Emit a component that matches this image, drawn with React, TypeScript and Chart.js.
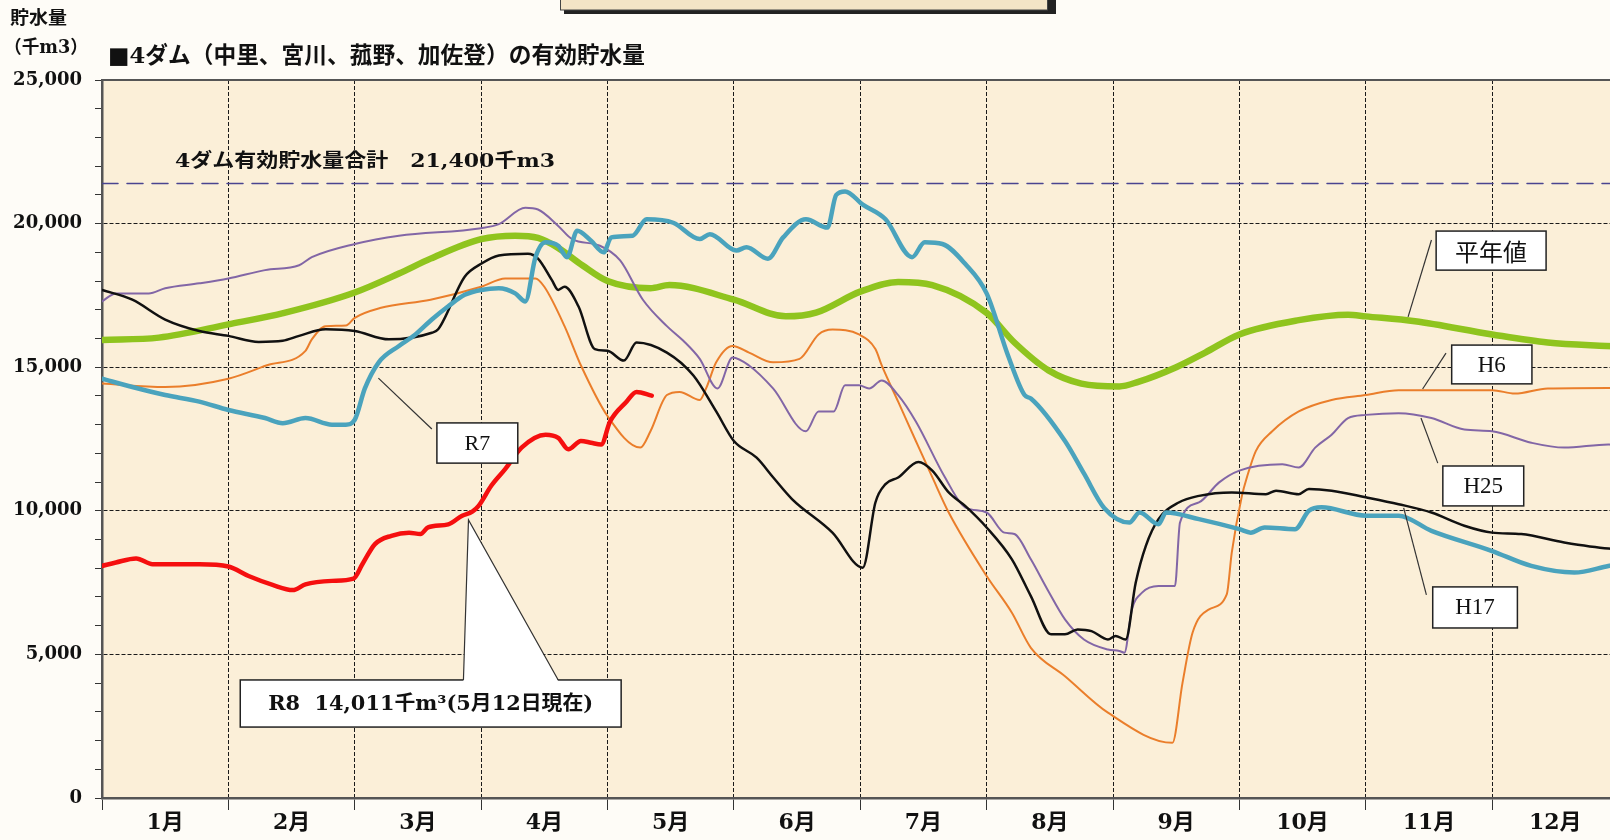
import React, { useEffect, useRef } from "react";
import { Chart, registerables } from "chart.js";

Chart.register(...registerables);

// ---------- data (x = month position 0..12, y = 千m3) ----------
const monthLabels = ["1月", "2月", "3月", "4月", "5月", "6月", "7月", "8月", "9月", "10月", "11月", "12月"];
const yTickValues = Array.from({ length: 26 }, (_, i) => i * 1000);
const xTickValues = [0, 0.5, 1, 1.5, 2, 2.5, 3, 3.5, 4, 4.5, 5, 5.5, 6, 6.5, 7, 7.5, 8, 8.5, 9, 9.5, 10, 10.5, 11, 11.5, 12];

const capacityTotal = 21400;
const capacityLine: [number, number][] = [[0, capacityTotal], [12, capacityTotal]];

const heinen: [number, number][] = [
  [0, 15950], [0.45, 16030], [1, 16490], [1.45, 16900], [2, 17600], [2.35, 18260], [2.6, 18780], [3, 19460],
  [3.27, 19580], [3.45, 19500], [3.6, 19180], [3.8, 18550], [4.0, 18000], [4.34, 17750], [4.49, 17860], [5, 17350],
  [5.41, 16770], [5.65, 16900], [6, 17630], [6.3, 17970], [6.57, 17860], [7, 16890], [7.22, 15860], [7.49, 14890],
  [7.75, 14430], [8.05, 14330], [8.2, 14490], [8.5, 15000], [8.73, 15510], [9, 16140], [9.47, 16640], [9.86, 16830],
  [10, 16770], [10.39, 16600], [11, 16140], [11.44, 15860], [11.9, 15740], [12, 15720],
];

const h6: [number, number][] = [
  [0, 14430], [0.5, 14310], [1, 14600], [1.3, 15060], [1.61, 15570], [1.66, 15970], [1.77, 16430], [1.93, 16450],
  [2, 16720], [2.2, 17060], [2.6, 17350], [3, 17800], [3.19, 18090], [3.43, 18090], [3.5, 17800], [3.66, 16430],
  [3.79, 15060], [4.0, 13300], [4.26, 12200], [4.34, 12770], [4.47, 14030], [4.57, 14140], [4.73, 13860], [4.78, 14260],
  [4.86, 15170], [4.99, 15740], [5.12, 15510], [5.31, 15170], [5.52, 15290], [5.67, 16140], [5.78, 16310], [5.99, 16140],
  [6.12, 15630], [6.17, 15060], [6.3, 13800], [6.44, 12430], [6.57, 11170], [6.7, 9940], [7, 7730], [7.2, 6450],
  [7.35, 5230], [7.62, 4240], [7.96, 2970], [8.47, 1920], [8.55, 4010], [8.63, 5760], [8.76, 6570], [8.9, 7090],
  [8.94, 8550], [9.02, 10520], [9.06, 11170], [9.13, 12080], [9.26, 12770], [9.47, 13460], [9.73, 13860], [10, 14030],
  [10.26, 14200], [10.52, 14200], [11, 14200], [11.18, 14080], [11.44, 14260], [11.92, 14280], [12, 14280],
];

const h25: [number, number][] = [
  [0, 17290], [0.11, 17570], [0.37, 17570], [0.5, 17750], [0.77, 17920], [1, 18090], [1.29, 18380], [1.56, 18550],
  [1.66, 18830], [2, 19290], [2.35, 19580], [3, 19840], [3.14, 19980], [3.35, 20550], [3.45, 20490], [3.61, 19920],
  [3.72, 19460], [3.94, 19230], [4.1, 18720], [4.28, 17350], [4.47, 16430], [4.6, 15920], [4.73, 15290], [4.87, 14260],
  [4.99, 15340], [5.12, 15060], [5.31, 14260], [5.57, 12770], [5.67, 13460], [5.79, 13460], [5.88, 14370], [5.99, 14370],
  [6.07, 14260], [6.17, 14540], [6.3, 14030], [6.44, 13110], [6.67, 11170], [6.83, 10120], [7, 9940], [7.14, 9240],
  [7.22, 9190], [7.35, 8310], [7.48, 7270], [7.62, 6220], [7.77, 5520], [7.96, 5170], [8.05, 5120], [8.09, 5060],
  [8.15, 6570], [8.23, 7150], [8.36, 7380], [8.49, 7380], [8.53, 9590], [8.68, 10290], [8.84, 10990], [9, 11400],
  [9.34, 11620], [9.47, 11510], [9.6, 12200], [9.73, 12650], [9.86, 13230], [10, 13340], [10.26, 13400], [10.52, 13230],
  [10.78, 12830], [11, 12770], [11.31, 12370], [11.57, 12200], [11.92, 12310], [12, 12300],
];

const h17: [number, number][] = [
  [0, 17690], [0.24, 17350], [0.5, 16660], [0.77, 16260], [1, 16090], [1.24, 15880], [1.43, 15920], [1.56, 16090],
  [1.77, 16320], [2, 16260], [2.27, 15970], [2.61, 16200], [2.66, 16320], [2.87, 18150], [3, 18600], [3.14, 18890],
  [3.37, 18950], [3.45, 18780], [3.56, 18030], [3.61, 17690], [3.66, 17800], [3.77, 17120], [3.9, 15630], [4.0, 15570],
  [4.13, 15230], [4.23, 15860], [4.47, 15510], [4.68, 14710], [4.86, 13460], [5, 12430], [5.18, 11850], [5.31, 11170],
  [5.46, 10410], [5.78, 9240], [6.02, 8020], [6.12, 10290], [6.2, 10930], [6.3, 11160], [6.46, 11700], [6.57, 11400],
  [6.7, 10640], [6.83, 10170], [7, 9420], [7.2, 8310], [7.35, 7030], [7.51, 5700], [7.62, 5700], [7.72, 5870],
  [7.83, 5810], [7.96, 5520], [8.02, 5640], [8.1, 5520], [8.18, 7500], [8.26, 8780], [8.36, 9710], [8.52, 10290],
  [8.68, 10520], [8.94, 10640], [9.21, 10580], [9.29, 10700], [9.47, 10580], [9.55, 10760], [9.73, 10700], [10, 10470],
  [10.26, 10230], [10.52, 9940], [10.78, 9480], [11, 9240], [11.23, 9190], [11.57, 8900], [11.92, 8690], [12, 8680],
];

const r7: [number, number][] = [
  [0, 14600], [0.24, 14310], [0.5, 14030], [0.77, 13800], [1, 13510], [1.29, 13230], [1.43, 13050], [1.61, 13230],
  [1.82, 13000], [1.93, 13000], [2, 13170], [2.08, 14260], [2.19, 15170], [2.35, 15740], [2.48, 16140], [2.61, 16660],
  [2.74, 17120], [2.87, 17520], [3, 17690], [3.14, 17750], [3.27, 17570], [3.35, 17290], [3.43, 18830], [3.51, 19350],
  [3.61, 19230], [3.68, 18830], [3.76, 19750], [3.87, 19400], [3.97, 19000], [4.03, 19520], [4.2, 19580], [4.31, 20150],
  [4.52, 20030], [4.73, 19460], [4.81, 19630], [5.02, 19060], [5.1, 19180], [5.27, 18780], [5.39, 19520], [5.57, 20150],
  [5.74, 19860], [5.81, 21000], [5.88, 21120], [6.02, 20660], [6.2, 20150], [6.41, 18830], [6.51, 19350], [6.65, 19290],
  [6.83, 18600], [7, 17570], [7.17, 15400], [7.3, 14030], [7.35, 13910], [7.62, 12430], [7.77, 11300], [7.93, 10100],
  [8.13, 9590], [8.21, 9940], [8.36, 9530], [8.42, 9940], [8.68, 9710], [9, 9360], [9.09, 9240], [9.2, 9420],
  [9.44, 9360], [9.55, 10000], [9.65, 10120], [10, 9830], [10.26, 9830], [10.52, 9300], [11, 8600], [11.31, 8080],
  [11.65, 7850], [11.92, 8080], [12, 8150],
];

const r8: [number, number][] = [
  [0, 8080], [0.11, 8200], [0.27, 8340], [0.4, 8140], [0.64, 8140], [0.77, 8140], [1, 8060], [1.16, 7730],
  [1.35, 7420], [1.51, 7240], [1.61, 7440], [1.82, 7560], [1.99, 7640], [2.06, 8140], [2.16, 8840], [2.29, 9130],
  [2.43, 9240], [2.52, 9190], [2.58, 9420], [2.74, 9530], [2.85, 9830], [2.93, 9970], [2.98, 10170], [3.08, 10870],
  [3.19, 11450], [3.32, 12200], [3.51, 12650], [3.61, 12540], [3.69, 12140], [3.79, 12430], [3.87, 12370], [3.95, 12310],
  [4.02, 13110], [4.15, 13800], [4.23, 14140], [4.35, 14011],
];

// ---------- text ----------
const yAxisTitle1 = "貯水量";
const yAxisTitle2 = "（千m3）";
const chartTitle = "■4ダム（中里、宮川、菰野、加佐登）の有効貯水量";
const capacityText = "4ダム有効貯水量合計　21,400千m3";
const r8Text = "R8  14,011千m³(5月12日現在)";

// ---------- layout / style ----------
const CANVAS_W = 1640;
const CANVAS_H = 840;
const PLOT_LEFT = 102;
const PLOT_RIGHT = 1618.5;
const PLOT_TOP = 80;
const PLOT_BOTTOM = 798;

const SERIF = '"DejaVu Serif", "Noto Sans CJK JP", serif';
const LIB = '"Liberation Serif", "Noto Sans CJK JP", serif';
const CJK = '"Noto Sans CJK JP", sans-serif';

// callout boxes in data coordinates: box = [x0, yTop, x1, yBottom], line = [[x,y] at box, [x,y] at series]
const callouts = [
  { text: "平年値", font: `24px ${CJK}`, box: [10.557, 19740, 11.427, 18380], line: [[10.52, 19430], [10.335, 16750]] },
  { text: "H6", font: `23px ${LIB}`, box: [10.68, 15770, 11.315, 14420], line: [[10.635, 15490], [10.45, 14240]] },
  { text: "H25", font: `23px ${LIB}`, box: [10.61, 11560, 11.25, 10170], line: [[10.57, 11660], [10.437, 13230]] },
  { text: "H17", font: `23px ${LIB}`, box: [10.53, 7350, 11.2, 5920], line: [[10.48, 7070], [10.3, 10100]] },
  { text: "R7", font: `22px ${LIB}`, box: [2.65, 13060, 3.29, 11660], line: [[2.61, 12850], [2.187, 14620]] },
];
const r8Callout = { box: [1.094, 4110, 4.108, 2470], wedge: [2.86, 3.61], tip: [2.9, 9680] };

function drawText(
  ctx: CanvasRenderingContext2D, text: string, x: number, y: number, font: string,
  width: number | null, align: "left" | "center"
) {
  ctx.save();
  ctx.font = font;
  ctx.textBaseline = "middle";
  ctx.textAlign = "left";
  const w = ctx.measureText(text).width;
  const k = width ? width / w : 1;
  const left = align === "left" ? x : x - (w * k) / 2;
  ctx.translate(left, y);
  ctx.scale(k, 1);
  ctx.fillStyle = "#111";
  ctx.fillText(text, 0, 0);
  ctx.restore();
}

const overlayPlugin = {
  id: "overlay",
  beforeDraw(chart: any) {
    const { ctx, chartArea: a } = chart;
    ctx.save();
    ctx.fillStyle = "#FEFCF7";
    ctx.fillRect(0, 0, chart.width, chart.height);
    ctx.fillStyle = "#FBEFD8";
    ctx.fillRect(a.left, a.top, a.right - a.left, a.bottom - a.top);
    ctx.restore();
  },
  afterDatasetsDraw(chart: any) {
    const { ctx, chartArea: a, scales } = chart;
    const X = (v: number) => scales.x.getPixelForValue(v);
    const Y = (v: number) => scales.y.getPixelForValue(v);
    ctx.save();
    // top frame line
    ctx.strokeStyle = "#555";
    ctx.lineWidth = 2;
    ctx.beginPath();
    ctx.moveTo(a.left, a.top);
    ctx.lineTo(a.right, a.top);
    ctx.stroke();

    // callouts
    for (const c of callouts) {
      ctx.strokeStyle = "#333";
      ctx.lineWidth = 1.2;
      ctx.beginPath();
      ctx.moveTo(X(c.line[0][0]), Y(c.line[0][1]));
      ctx.lineTo(X(c.line[1][0]), Y(c.line[1][1]));
      ctx.stroke();
      const x0 = X(c.box[0]), y0 = Y(c.box[1]), x1 = X(c.box[2]), y1 = Y(c.box[3]);
      ctx.fillStyle = "#FFFFFF";
      ctx.fillRect(x0, y0, x1 - x0, y1 - y0);
      ctx.strokeStyle = "#222";
      ctx.lineWidth = 1.5;
      ctx.strokeRect(x0, y0, x1 - x0, y1 - y0);
      drawText(ctx, c.text, (x0 + x1) / 2, (y0 + y1) / 2 + 1, c.font, null, "center");
    }

    // R8 wedge callout
    {
      const b = r8Callout.box;
      const x0 = X(b[0]), y0 = Y(b[1]), x1 = X(b[2]), y1 = Y(b[3]);
      const wa = X(r8Callout.wedge[0]), wb = X(r8Callout.wedge[1]);
      const tx = X(r8Callout.tip[0]), ty = Y(r8Callout.tip[1]);
      ctx.fillStyle = "#FFFFFF";
      ctx.fillRect(x0, y0, x1 - x0, y1 - y0);
      ctx.strokeStyle = "#222";
      ctx.lineWidth = 1.5;
      ctx.strokeRect(x0, y0, x1 - x0, y1 - y0);
      ctx.beginPath();
      ctx.moveTo(wa, y0 + 1);
      ctx.lineTo(tx, ty);
      ctx.lineTo(wb, y0 + 1);
      ctx.closePath();
      ctx.fill();
      ctx.lineWidth = 1.2;
      ctx.strokeStyle = "#333";
      ctx.beginPath();
      ctx.moveTo(wa, y0);
      ctx.lineTo(tx, ty);
      ctx.lineTo(wb, y0);
      ctx.stroke();
      drawText(ctx, r8Text, (x0 + x1) / 2, (y0 + y1) / 2 + 1, `bold 20px ${SERIF}`, 325, "center");
    }
    ctx.restore();
  },
  afterDraw(chart: any) {
    const { ctx, scales } = chart;
    const Y = (v: number) => scales.y.getPixelForValue(v);
    ctx.save();
    // partially visible box at the very top
    ctx.fillStyle = "#222";
    ctx.fillRect(564, -10, 492, 24);
    ctx.fillStyle = "#F4E4C6";
    ctx.fillRect(560, -10, 488, 20);
    ctx.strokeStyle = "#444";
    ctx.lineWidth = 1;
    ctx.strokeRect(560.5, -10, 487, 20);

    drawText(ctx, yAxisTitle1, 10, 19, `bold 18px ${SERIF}`, 57, "left");
    drawText(ctx, yAxisTitle2, 4, 48, `bold 18px ${SERIF}`, 84, "left");
    drawText(ctx, chartTitle, 108, 57, `bold 23px ${SERIF}`, 537, "left");
    drawText(ctx, capacityText, 175, Y(capacityTotal) - 21, `bold 19px ${SERIF}`, 380, "left");
    ctx.restore();
  },
};

const isInt = (v: number) => Math.abs(v - Math.round(v)) < 1e-6;

export default function App() {
  const ref = useRef<HTMLCanvasElement | null>(null);

  useEffect(() => {
    if (!ref.current) return;
    const pts = (arr: [number, number][]) => arr.map(([x, y]) => ({ x, y }));
    const line = (label: string, arr: [number, number][], color: string, width: number, extra: any = {}) => ({
      label,
      data: pts(arr),
      borderColor: color,
      backgroundColor: color,
      borderWidth: width,
      pointRadius: 0,
      fill: false,
      cubicInterpolationMode: "monotone",
      borderJoinStyle: "round",
      borderCapStyle: "round",
      ...extra,
    });

    const chart = new Chart(ref.current, {
      type: "line",
      data: {
        datasets: [
          line("R8", r8, "#F50F0F", 4.5),
          line("R7", r7, "#4AA3BD", 4.5),
          line("H17", h17, "#111111", 2.5),
          line("H25", h25, "#8266A6", 2),
          line("H6", h6, "#EA7E2B", 2),
          line("平年値", heinen, "#8FC41E", 6.5),
          line("合計", capacityLine, "#4A4490", 1.5, { borderDash: [16, 9], cubicInterpolationMode: "default", tension: 0 }),
        ] as any,
      },
      options: {
        responsive: false,
        animation: false,
        devicePixelRatio: 1,
        layout: { padding: { left: 0, top: PLOT_TOP, right: CANVAS_W - PLOT_RIGHT, bottom: 0 } },
        plugins: { legend: { display: false }, tooltip: { enabled: false }, title: { display: false } },
        scales: {
          x: {
            type: "linear",
            min: 0,
            max: 12,
            afterBuildTicks: (s: any) => {
              s.ticks = xTickValues.map((v) => ({ value: v }));
            },
            afterFit: (s: any) => {
              s.height = CANVAS_H - PLOT_BOTTOM;
            },
            grid: {
              color: (c: any) => {
                const v = c.tick ? c.tick.value : 0;
                return isInt(v) && v > 0 && v < 12 ? "#1a1a1a" : "rgba(0,0,0,0)";
              },
              lineWidth: 1,
              tickColor: (c: any) => {
                const v = c.tick ? c.tick.value : 0;
                return isInt(v) ? "#333" : "rgba(0,0,0,0)";
              },
              tickLength: 12,
              drawTicks: true,
            },
            border: { display: true, color: "#555", width: 2.5, dash: [4, 2] },
            ticks: {
              autoSkip: false,
              maxRotation: 0,
              minRotation: 0,
              padding: 0,
              color: "#111",
              font: { family: SERIF, size: 22, weight: "bold" },
              callback: (v: any) => {
                const n = Number(v);
                return isInt(n) ? "" : monthLabels[Math.floor(n)];
              },
            },
          },
          y: {
            type: "linear",
            min: 0,
            max: 25000,
            afterBuildTicks: (s: any) => {
              s.ticks = yTickValues.map((v) => ({ value: v }));
            },
            afterFit: (s: any) => {
              s.width = PLOT_LEFT;
            },
            grid: {
              color: (c: any) => {
                const v = c.tick ? c.tick.value : 0;
                return v % 5000 === 0 && v > 0 && v < 25000 ? "#1a1a1a" : "rgba(0,0,0,0)";
              },
              lineWidth: 1,
              tickColor: "#333",
              tickLength: 7,
              drawTicks: true,
            },
            border: { display: true, color: "#555", width: 2.5, dash: [4, 2] },
            ticks: {
              autoSkip: false,
              padding: 13,
              color: "#111",
              font: { family: SERIF, size: 18, weight: "bold" },
              callback: (v: any) => {
                const n = Number(v);
                return n % 5000 === 0 ? n.toLocaleString("en-US") : "";
              },
            },
          },
        },
      } as any,
      plugins: [overlayPlugin],
    });
    return () => chart.destroy();
  }, []);

  return (
    <div style={{ position: "fixed", left: 0, top: 0, width: 1610, height: 840, overflow: "hidden", background: "#FEFCF7" }}>
      <canvas ref={ref} width={CANVAS_W} height={CANVAS_H} style={{ display: "block", width: CANVAS_W, height: CANVAS_H }} />
    </div>
  );
}
